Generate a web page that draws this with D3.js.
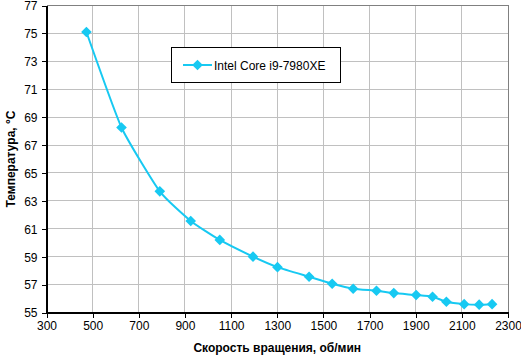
<!DOCTYPE html>
<html><head><meta charset="utf-8">
<script src="https://cdn.jsdelivr.net/npm/d3@7"></script>
<style>body{margin:0;background:#fff}svg{display:block}text{font-family:"Liberation Sans",Arial,sans-serif}</style>
</head><body><svg id="c" width="521" height="355"></svg>
<script>
const rpm = [473, 625, 791, 925, 1051, 1195, 1301, 1438, 1538, 1629, 1730, 1805, 1902, 1973, 2033, 2110, 2175, 2231];
const temp = [75.1, 68.26, 63.68, 61.56, 60.2, 59.0, 58.25, 57.56, 57.06, 56.7, 56.56, 56.39, 56.25, 56.13, 55.77, 55.6, 55.56, 55.6];
const xTicks = [300, 500, 700, 900, 1100, 1300, 1500, 1700, 1900, 2100, 2300];
const yTicks = [55, 57, 59, 61, 63, 65, 67, 69, 71, 73, 75, 77];
const seriesName = "Intel Core i9-7980XE";
const xTitle = "Скорость вращения, об/мин";
const yTitle = "Температура, °C";

const svg = d3.select("#c");
const L = 46.5, R = 508, T = 5.5, B = 312.5;
const x = d3.scaleLinear().domain([300, 2300]).range([L, R]);
const y = d3.scaleLinear().domain([55, 77]).range([B, T]);
const color = "#17C9F2";

// gridlines
svg.append("g").selectAll("line.v").data(xTicks.slice(1, -1)).join("line")
  .attr("x1", d => x(d)).attr("x2", d => x(d)).attr("y1", T).attr("y2", B)
  .attr("stroke", "#c0c0c0").attr("stroke-width", 1).attr("shape-rendering", "crispEdges");
svg.append("g").selectAll("line.h").data(yTicks.slice(1, -1)).join("line")
  .attr("y1", d => y(d)).attr("y2", d => y(d)).attr("x1", L).attr("x2", R)
  .attr("stroke", "#c0c0c0").attr("stroke-width", 1).attr("shape-rendering", "crispEdges");
// top/right border
svg.append("path").attr("d", `M${L},${T}H${R}V${B}`).attr("fill", "none")
  .attr("stroke", "#808080").attr("shape-rendering", "crispEdges");

// axes
const xa = svg.append("g").attr("transform", `translate(0,${B})`)
  .call(d3.axisBottom(x).tickValues(xTicks).tickFormat(d3.format("d")).tickSize(5).tickSizeOuter(0).tickPadding(4));
const ya = svg.append("g").attr("transform", `translate(${L},0)`)
  .call(d3.axisLeft(y).tickValues(yTicks).tickFormat(d3.format("d")).tickSize(5).tickSizeOuter(0).tickPadding(4));
[xa, ya].forEach(a => {
  a.selectAll("path,line").attr("stroke", "#000").attr("shape-rendering", "crispEdges");
  a.selectAll("text").attr("font-size", 12).attr("fill", "#000")
   .attr("font-family", '"Liberation Sans",Arial,sans-serif');
});
ya.selectAll("text").attr("dy", "0.36em");
xa.select(".domain").attr("stroke-width", 1.5);
ya.select(".domain").attr("stroke-width", 1.5);

// line
const data = rpm.map((r, i) => [r, temp[i]]);
svg.append("path").datum(data)
  .attr("d", d3.line().x(d => x(d[0])).y(d => y(d[1])).curve(d3.curveCardinal.tension(0.5)))
  .attr("fill", "none").attr("stroke", color).attr("stroke-width", 2);
const diamond = d3.symbol().type(d3.symbolDiamond2).size(72);
svg.append("g").selectAll("path").data(data).join("path")
  .attr("d", diamond).attr("transform", d => `translate(${x(d[0])},${y(d[1])})`)
  .attr("fill", color);

// legend
svg.append("rect").attr("x", 171.5).attr("y", 47.5).attr("width", 169).attr("height", 35)
  .attr("fill", "#fff").attr("stroke", "#000");
svg.append("line").attr("x1", 183).attr("x2", 212).attr("y1", 65).attr("y2", 65)
  .attr("stroke", color).attr("stroke-width", 2);
svg.append("path").attr("d", diamond).attr("transform", "translate(197.5,65)").attr("fill", color);
svg.append("text").attr("x", 214).attr("y", 69.5).attr("font-size", 12).text(seriesName);

// titles
svg.append("text").attr("x", (L + R) / 2).attr("y", 352).attr("text-anchor", "middle")
  .attr("font-size", 12).attr("font-weight", "bold").text(xTitle);
svg.append("text").attr("transform", `translate(15,${(T + B) / 2}) rotate(-90)`)
  .attr("text-anchor", "middle").attr("font-size", 12).attr("font-weight", "bold").text(yTitle);
</script></body></html>
